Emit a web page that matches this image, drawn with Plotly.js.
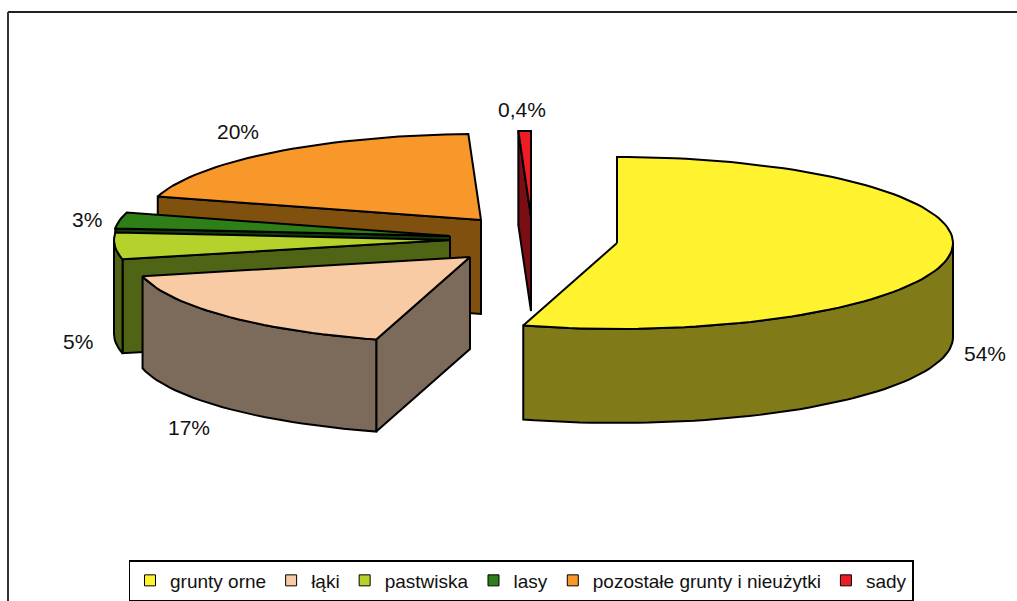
<!DOCTYPE html>
<html>
<head>
<meta charset="utf-8">
<script src="https://cdn.plot.ly/plotly-3.0.1.min.js"></script>
<style>html,body{margin:0;padding:0;background:#fff;overflow:hidden}#chart{width:1017px;height:601px}</style>
</head>
<body>
<div id="chart"></div>
<script>
// Data
const categories = ["grunty orne", "łąki", "pastwiska", "lasy", "pozostałe grunty i nieużytki", "sady"];
const shares = [54.5, 16.9, 5, 3, 20, 0.6];
const shareLabels = ["54%", "17%", "5%", "3%", "20%", "0,4%"];

// Styling and projection of the exploded 3-D pie
const topColors = ["#FFF22E", "#F8CBA4", "#B4D12C", "#2F7F18", "#F9982A", "#EE1C25"];
const wallColors = ["#807A18", "#7C6A5A", "#506416", "#0F3A0A", "#80500F", "#7A0E14"];
const sliceCentreX = [617, 470, 450, 450, 481, 531];
const sliceCentreY = [243, 257, 240, 236, 220, 217];
const sliceDepth = [94, 92, 94, 94, 94, 94];
const labelX = [985, 189, 78, 87, 238, 522];
const labelY = [353, 427, 341, 219, 131, 109];
const drawOrder = [4, 5, 3, 2, 1, 0];
const RX = 336, RY = 86, STEP = 2;

const rad = d => d * Math.PI / 180;
const total = shares.reduce((a, b) => a + b, 0);
let running = 0;
const startAngle = [], endAngle = [];
shares.forEach((v, i) => {
  startAngle[i] = running / total * 360;
  running += v;
  endAngle[i] = running / total * 360;
});

function rim(i, a) {
  return [sliceCentreX[i] + RX * Math.sin(rad(a)), sliceCentreY[i] - RY * Math.cos(rad(a))];
}
function arc(i, a0, a1) {
  const pts = [];
  const n = Math.max(1, Math.ceil((a1 - a0) / STEP));
  for (let k = 0; k <= n; k++) pts.push(rim(i, a0 + (a1 - a0) * k / n));
  return pts;
}
function poly(pts, fill, name) {
  const xs = pts.map(p => p[0]), ys = pts.map(p => p[1]);
  xs.push(xs[0]); ys.push(ys[0]);
  return {
    type: "scatter", mode: "lines", x: xs, y: ys, fill: "toself", fillcolor: fill,
    line: {color: "#000", width: 2}, showlegend: false, hoverinfo: "skip", name: name
  };
}
function radialWall(i, a) {
  const c = [sliceCentreX[i], sliceCentreY[i]], r = rim(i, a), d = sliceDepth[i];
  return [c, r, [r[0], r[1] + d], [c[0], c[1] + d]];
}

const traces = [];
drawOrder.forEach(i => {
  const a0 = startAngle[i], a1 = endAngle[i];
  // wall on the starting radius faces the viewer in the left half
  if (Math.sin(rad(a0)) < -1e-6) traces.push(poly(radialWall(i, a0), wallColors[i], categories[i]));
  // outer curved wall: only the front part of the rim
  const f0 = Math.max(a0, 90), f1 = Math.min(a1, 270);
  if (f1 > f0) {
    const upper = arc(i, f0, f1);
    const lower = upper.slice().reverse().map(p => [p[0], p[1] + sliceDepth[i]]);
    traces.push(poly(upper.concat(lower), wallColors[i], categories[i]));
  }
  // top face
  traces.push(poly([[sliceCentreX[i], sliceCentreY[i]]].concat(arc(i, a0, a1)), topColors[i], categories[i]));
});

// Legend entries
categories.forEach((c, i) => traces.push({
  type: "scatter", mode: "markers", x: [null], y: [null], name: c, hoverinfo: "skip",
  marker: {symbol: "square", size: 11, color: topColors[i], line: {color: "#000", width: 1}}
}));

const labelFont = {family: "Liberation Sans, Arial, sans-serif", size: 21, color: "#111"};
const legendFont = {family: "Liberation Sans, Arial, sans-serif", size: 19, color: "#111"};
const layout = {
  width: 1017, height: 601,
  margin: {l: 0, r: 0, t: 0, b: 0},
  paper_bgcolor: "#fff", plot_bgcolor: "#fff",
  xaxis: {range: [0, 1017], visible: false, fixedrange: true},
  yaxis: {range: [601, 0], visible: false, fixedrange: true},
  showlegend: true,
  legend: {
    orientation: "h", x: 521 / 1017, xanchor: "center", y: 1 - 560 / 601, yanchor: "top",
    bgcolor: "#fff", bordercolor: "#000", borderwidth: 1.5,
    font: legendFont, traceorder: "normal", itemclick: false, itemdoubleclick: false
  },
  annotations: shareLabels.map((t, i) => ({
    x: labelX[i], y: labelY[i], xref: "x", yref: "y", text: t, showarrow: false, font: labelFont
  })),
  shapes: [
    {type: "line", xref: "x", yref: "y", x0: 8, x1: 1017, y0: 12, y1: 12, line: {color: "#222", width: 2}},
    {type: "line", xref: "x", yref: "y", x0: 8, x1: 8, y0: 12, y1: 601, line: {color: "#333", width: 2}}
  ]
};
Plotly.newPlot("chart", traces, layout, {displayModeBar: false, staticPlot: true});
</script>
</body>
</html>
